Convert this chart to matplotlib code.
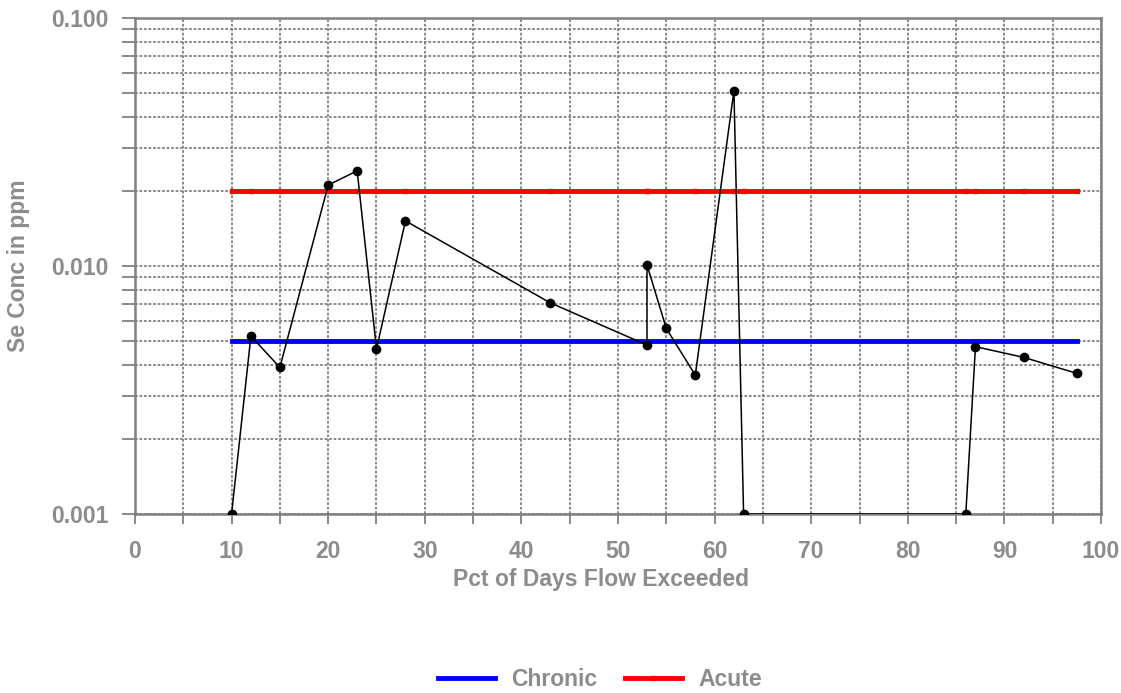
import numpy as np
import matplotlib
matplotlib.use("Agg")
import matplotlib.pyplot as plt
from matplotlib.ticker import LogLocator, FixedLocator, NullFormatter

# ---- data ----
pct_exceeded = [10, 12, 15, 20, 23, 25, 28, 43, 53, 53, 55, 58, 62, 63, 86, 87, 92, 97.5]
se_conc = [0.001, 0.00522, 0.0039, 0.0212, 0.0242, 0.00463, 0.0152, 0.0071, 0.0048,
           0.0101, 0.0056, 0.00363, 0.0509, 0.001, 0.001, 0.00473, 0.00428, 0.00369]
chronic_level = 0.005
acute_level = 0.02
y_ticks = [0.001, 0.01, 0.1]
y_ticklabels = ["0.001", "0.010", "0.100"]

GRAY = "#808080"
TXT = "#8c8c8c"
FS = 16.5

plt.rcParams["font.family"] = ["Liberation Sans", "DejaVu Sans"]

fig = plt.figure(figsize=(11.21, 6.93), dpi=100)
ax = fig.add_axes([0.1204, 0.2583, 0.8618, 0.7157])

x = np.asarray(pct_exceeded, dtype=float)
ax.plot(x, np.full_like(x, chronic_level), "-", color="#0000ff", lw=3.5,
        label="Chronic", zorder=3)
ax.plot(x, np.full_like(x, acute_level), "-", color="#ff0000", lw=3.5,
        marker="s", ms=2.5, label="Acute", zorder=3)
ax.plot(pct_exceeded, se_conc, "-", color="black", lw=1.1, marker="o", ms=6,
        zorder=4)

ax.set_yscale("log")
ax.set_xlim(0, 100)
ax.set_ylim(0.001, 0.1)

ax.xaxis.set_major_locator(FixedLocator(np.arange(0, 101, 10)))
ax.xaxis.set_minor_locator(FixedLocator(np.arange(5, 100, 10)))
ax.yaxis.set_major_locator(FixedLocator(y_ticks))
ax.yaxis.set_minor_locator(LogLocator(base=10, subs=np.arange(2, 10)))
ax.yaxis.set_minor_formatter(NullFormatter())
ax.set_yticklabels(y_ticklabels)

ax.grid(True, which="both", color=GRAY, ls=(0, (1.5, 1)), lw=1.3, zorder=0)
ax.set_axisbelow(True)
for s in ax.spines.values():
    s.set_color(GRAY)
    s.set_linewidth(1.8)

ax.tick_params(which="both", direction="out", color=GRAY, width=1.3)
ax.tick_params(axis="x", which="both", length=7.2, pad=11.5)
ax.tick_params(axis="y", which="both", length=9.4, pad=9.5)
ax.tick_params(axis="both", labelsize=FS, labelcolor=TXT)
for lab in ax.get_xticklabels() + ax.get_yticklabels():
    lab.set_fontweight("bold")

ax.set_xlabel("Pct of Days Flow Exceeded", fontsize=FS, fontweight="bold", color=TXT)
ax.xaxis.set_label_coords(0.482, -0.133)
ax.xaxis.label.set_va("center")
ax.set_ylabel("Se Conc in ppm", fontsize=FS, fontweight="bold", color=TXT)
ax.yaxis.set_label_coords(-0.121, 0.5)
ax.yaxis.label.set_va("center")

leg = fig.legend(loc="center", bbox_to_anchor=(0.535, 0.02), ncol=2, frameon=False,
                 handlelength=2.5, columnspacing=1.2, handletextpad=0.7,
                 prop={"weight": "bold", "size": FS})
for t in leg.get_texts():
    t.set_color(TXT)

fig.savefig("out.png", dpi=100)
